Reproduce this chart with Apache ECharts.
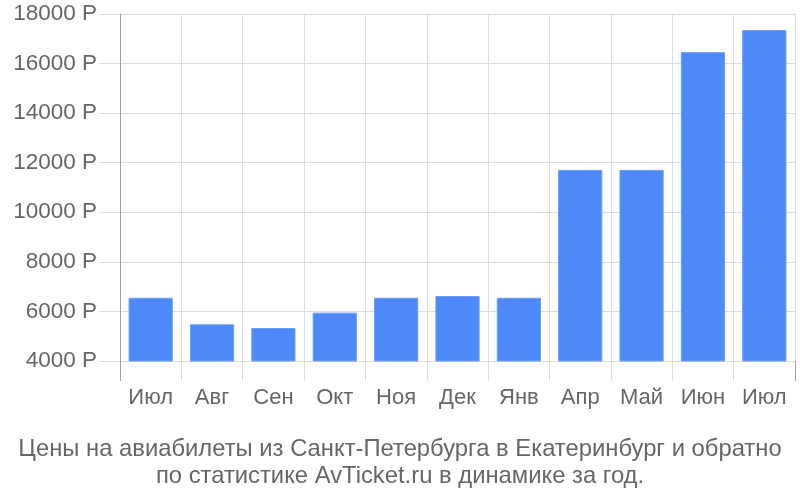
<!DOCTYPE html>
<html>
<head>
<meta charset="utf-8">
<script src="https://cdn.jsdelivr.net/npm/echarts@6/dist/echarts.min.js"></script>
<style>html,body{margin:0;padding:0;background:#fff}#c{width:800px;height:500px}</style>
</head>
<body>
<div id="c"></div>
<script>
var categories = ['Июл','Авг','Сен','Окт','Ноя','Дек','Янв','Апр','Май','Июн','Июл'];
var prices = [6550, 5480, 5330, 5950, 6550, 6620, 6550, 11710, 11710, 16460, 17350];
var yTicks = [4000, 6000, 8000, 10000, 12000, 14000, 16000, 18000];
var titleLines = ['Цены на авиабилеты из Санкт-Петербурга в Екатеринбург и обратно', 'по статистике AvTicket.ru в динамике за год.'];

var font = 'Liberation Sans, Arial, sans-serif';
var chart = echarts.init(document.getElementById('c'));
chart.setOption({
  animation: false,
  title: {
    text: titleLines.join('\n'),
    left: 'center',
    top: 431,
    textStyle: {color: '#666', fontSize: 23.8, fontWeight: 'normal', fontFamily: font, lineHeight: 27, align: 'center'}
  },
  grid: {left: 120, right: 5, top: 14, bottom: 139},
  xAxis: [{
    type: 'category',
    data: categories,
    boundaryGap: true,
    axisLine: {show: true, lineStyle: {color: '#ddd', width: 1}},
    axisTick: {show: true, length: 20, lineStyle: {color: '#ddd'}},
    splitLine: {show: true, lineStyle: {color: '#ddd', width: 1}},
    axisLabel: {color: '#666', fontSize: 22, fontFamily: font, margin: 26, interval: 0}
  }, {
    type: 'category',
    data: categories,
    position: 'bottom',
    boundaryGap: true,
    axisLine: {show: false},
    axisTick: {show: true, length: 20, interval: function (i) { return i === 0; }, lineStyle: {color: '#a0a0a0'}},
    axisLabel: {show: false},
    splitLine: {show: false}
  }],
  yAxis: {
    type: 'value',
    min: yTicks[0],
    max: yTicks[yTicks.length - 1],
    interval: 2000,
    axisLine: {show: true, lineStyle: {color: '#a0a0a0', width: 1}},
    axisTick: {show: true, length: 21, lineStyle: {color: '#ddd'}},
    splitLine: {show: true, lineStyle: {color: '#ddd', width: 1}},
    axisLabel: {color: '#666', fontSize: 22.5, fontFamily: font, margin: 23, formatter: function (v) { return v + ' Р'; }}
  },
  series: [{
    type: 'bar',
    data: prices,
    barWidth: '72%',
    itemStyle: {color: '#4d89f9', borderColor: '#6a9cf9', borderWidth: 1}
  }]
});
</script>
</body>
</html>
